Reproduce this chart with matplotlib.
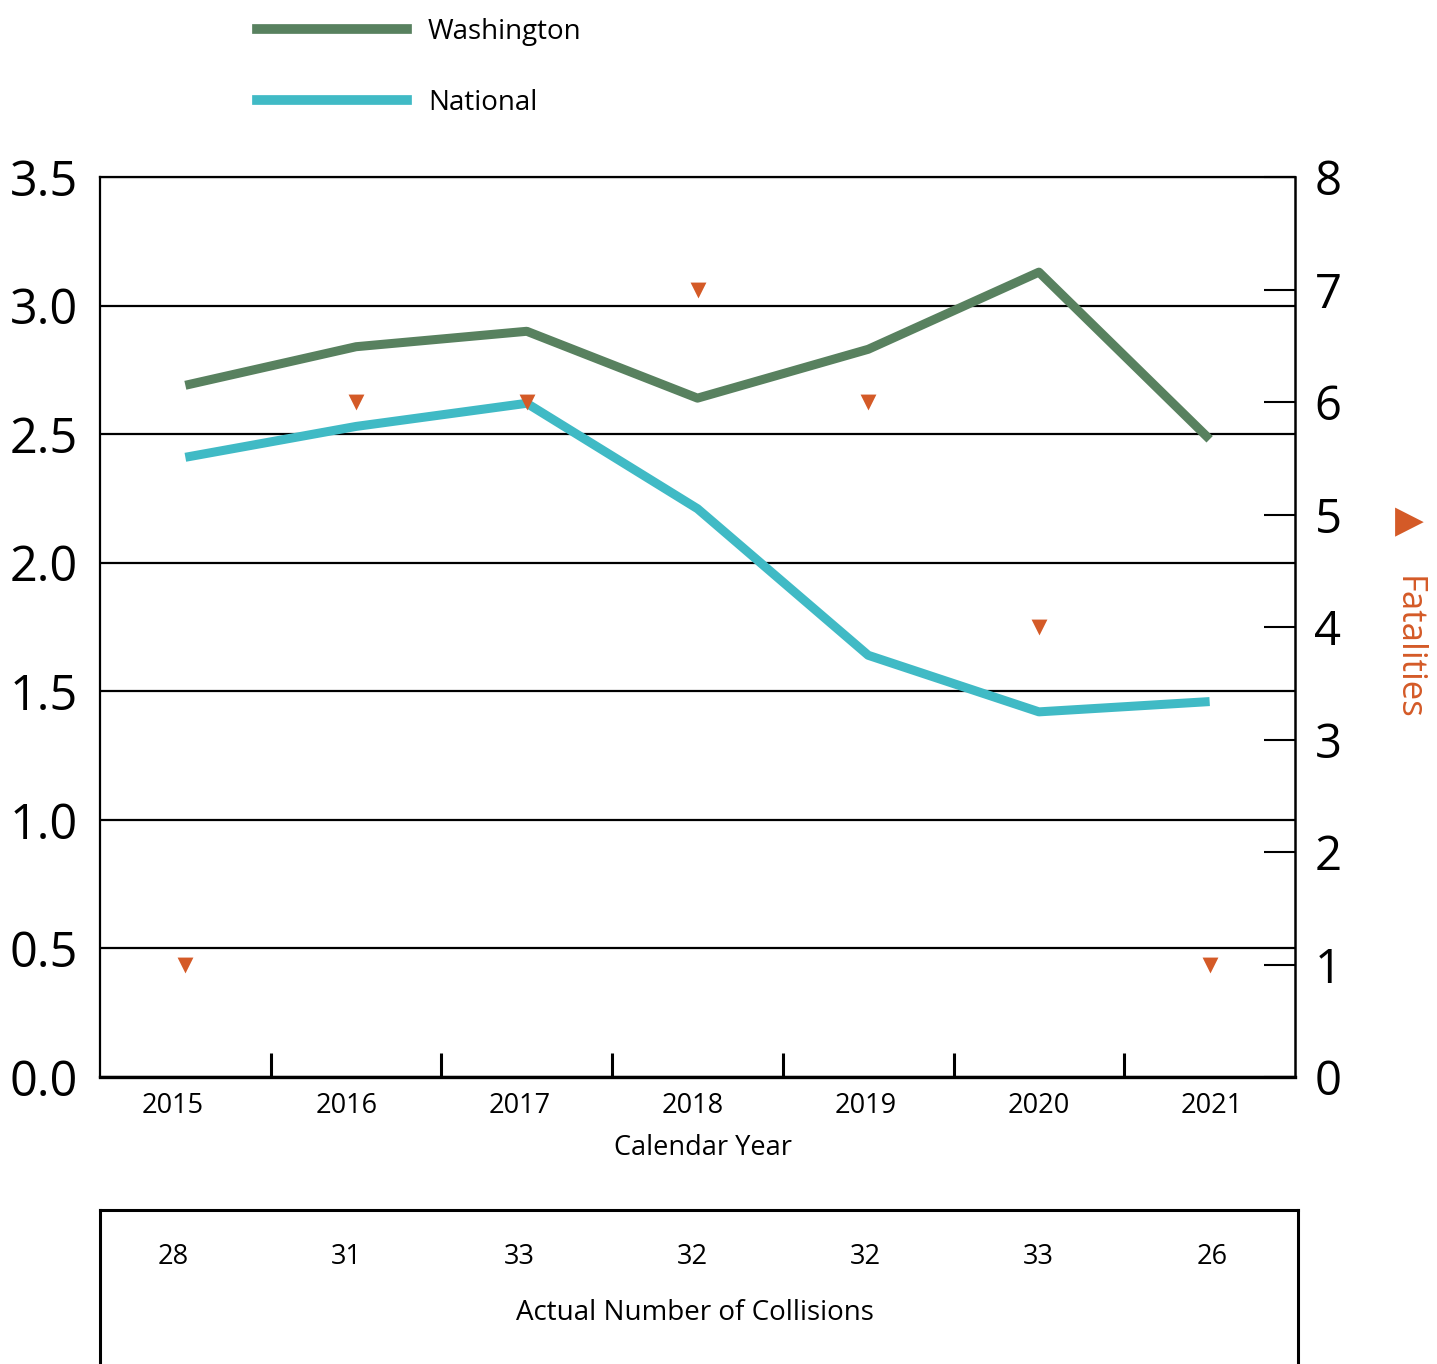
import matplotlib
matplotlib.use("Agg")
import matplotlib.pyplot as plt
from matplotlib.lines import Line2D
import matplotlib.transforms as mtransforms
import numpy as np

years = ["2015", "2016", "2017", "2018", "2019", "2020", "2021"]
washington = [2.69, 2.84, 2.90, 2.64, 2.83, 3.13, 2.48]
national = [2.41, 2.53, 2.62, 2.21, 1.64, 1.42, 1.46]
fatalities = [1, 6, 6, 7, 6, 4, 1]
collisions = [28, 31, 33, 32, 32, 33, 26]

left_ticks = [0.0, 0.5, 1.0, 1.5, 2.0, 2.5, 3.0, 3.5]
right_ticks = [0, 1, 2, 3, 4, 5, 6, 7, 8]

WA_COLOR = "#58815F"
NAT_COLOR = "#40BAC5"
FAT_COLOR = "#D45A27"

plt.rcParams['font.family'] = ['Open Sans', 'DejaVu Sans']

W, H = 1437, 1364
fig = plt.figure(figsize=(W / 100, H / 100), dpi=100)

ax = fig.add_axes([100 / W, 1 - 1077 / H, 1195 / W, 900 / H])
x = np.arange(len(years))
ax.set_xlim(-0.5, len(years) - 0.5)
ax.set_ylim(0, 3.5)

ax.set_yticks(left_ticks)
ax.set_yticklabels([f"{v:.1f}" for v in left_ticks], fontsize=35)
ax.tick_params(axis='y', length=0, pad=16)
ax.yaxis.grid(True, color='black', linewidth=1.6)
ax.set_axisbelow(True)

ax.set_xticks(np.arange(0.5, len(years) - 1, 1.0))
ax.set_xticklabels([])
ax.tick_params(axis='x', which='major', direction='in', length=17, width=2.2)
for i, yr in enumerate(years):
    ax.text(-0.072 + 1.014 * i, -0.017, yr, transform=ax.get_xaxis_transform(),
            ha='center', va='top', fontsize=19.5)
ax.text(0.505, -0.063, "Calendar Year", transform=ax.transAxes, ha='center',
        va='top', fontsize=19.5)

for side, lw in [('left', 1.6), ('bottom', 2.4), ('top', 1.6), ('right', 1.8)]:
    ax.spines[side].set_linewidth(lw)

ax.plot(x, washington, color=WA_COLOR, linewidth=6.5, solid_capstyle='butt', zorder=3)
ax.plot(x, national, color=NAT_COLOR, linewidth=6.5, solid_capstyle='butt', zorder=3)

ax2 = ax.twinx()
ax2.set_ylim(0, 8)
ax2.set_yticks(right_ticks)
ax2.set_yticklabels([str(v) for v in right_ticks], fontsize=34)
ax2.tick_params(axis='y', direction='in', length=22, width=1.5, pad=14)
for s in ax2.spines.values():
    s.set_visible(False)
ax2.scatter(x, fatalities, marker='v', s=130, color=FAT_COLOR, zorder=4, linewidths=0)

# Right-axis title: triangle marker glyph and rotated word
ax2.text(1409 / W, 1 - 522 / H, "\u25B6", transform=fig.transFigure,
         ha='center', va='center', color=FAT_COLOR, fontsize=27,
         family=['DejaVu Sans'])
ax2.text(1408 / W, 1 - 576 / H, "Fatalities", transform=fig.transFigure,
         rotation=-90, ha='center', va='top', color=FAT_COLOR, fontsize=25)

# Legend
handles = [Line2D([], [], color=WA_COLOR, linewidth=7),
           Line2D([], [], color=NAT_COLOR, linewidth=7)]
fig.legend(handles, ["Washington", "National"], loc='upper left',
           bbox_to_anchor=(257 / W, 1 - 18 / H), frameon=False, fontsize=20,
           handlelength=5.4, handletextpad=0.75, labelspacing=1.55,
           borderpad=0, borderaxespad=0)

# Collision table
tax = fig.add_axes([100 / W, 0, 1198 / W, (1364 - 1210) / H])
tax.set_xlim(0, 1198)
tax.set_ylim(0, 154)
tax.set_xticks([])
tax.set_yticks([])
tax.spines['bottom'].set_visible(False)
for s in ['left', 'right', 'top']:
    tax.spines[s].set_linewidth(2.2)
blend = mtransforms.blended_transform_factory(ax.transData, tax.transAxes)
for i, c in enumerate(collisions):
    tax.text(-0.072 + 1.014 * i, 1 - 47 / 154, str(c), transform=blend,
             ha='center', va='center', fontsize=19.5)
tax.text(0.497, 1 - 103 / 154, "Actual Number of Collisions", transform=tax.transAxes,
         ha='center', va='center', fontsize=20)

fig.savefig("out.png", dpi=100)
